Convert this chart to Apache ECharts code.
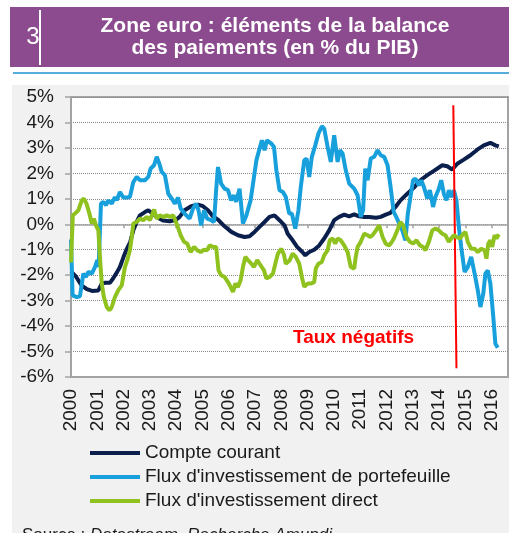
<!DOCTYPE html>
<html>
<head>
<meta charset="utf-8">
<script src="https://cdn.jsdelivr.net/npm/echarts@6/dist/echarts.min.js"></script>
<style>
  html, body { margin: 0; padding: 0; background: #fff; }
  #chart { width: 509px; height: 533px; }
</style>
</head>
<body>
<div id="chart"></div>
<script>
// Zone euro : éléments de la balance des paiements (en % du PIB)

// libellés
const seriesNames = ['Compte courant', "Flux d'investissement de portefeuille", "Flux d'investissement direct"];
const yearTicks = [2000, 2001, 2002, 2003, 2004, 2005, 2006, 2007, 2008, 2009, 2010, 2011, 2012, 2013, 2014, 2015, 2016];

// [année, % du PIB]
const compteCourant = [
    [2000.0, -1.85], [2000.05, -1.9], [2000.2, -2.07], [2000.4, -2.4], [2000.6, -2.55], [2000.8, -2.62],
    [2001.04, -2.6], [2001.17, -2.33], [2001.3, -2.3], [2001.48, -2.3], [2001.6, -2.13], [2001.74, -1.9],
    [2001.86, -1.68], [2002.0, -1.28], [2002.1, -1.02], [2002.25, -0.7], [2002.37, -0.24], [2002.5, 0.1],
    [2002.62, 0.35], [2002.81, 0.48], [2002.94, 0.55], [2003.13, 0.4], [2003.32, 0.25], [2003.5, 0.15],
    [2003.76, 0.12], [2004.0, 0.18], [2004.13, 0.29], [2004.32, 0.55], [2004.57, 0.71], [2004.83, 0.77],
    [2005.02, 0.71], [2005.21, 0.55], [2005.4, 0.31], [2005.59, 0.18], [2005.84, -0.08], [2006.1, -0.3],
    [2006.35, -0.43], [2006.6, -0.5], [2006.79, -0.47], [2006.98, -0.3], [2007.17, -0.1], [2007.36, 0.09],
    [2007.55, 0.29], [2007.74, 0.35], [2007.93, 0.16], [2008.12, -0.04], [2008.24, -0.37], [2008.43, -0.63],
    [2008.6, -0.89], [2008.8, -1.09], [2008.91, -1.22], [2009.06, -1.09], [2009.25, -1.0], [2009.44, -0.83],
    [2009.63, -0.56], [2009.82, -0.24], [2010.01, 0.16], [2010.2, 0.29], [2010.39, 0.38], [2010.58, 0.31],
    [2010.77, 0.39], [2010.96, 0.31], [2011.15, 0.29], [2011.34, 0.29], [2011.6, 0.26], [2011.78, 0.29],
    [2011.97, 0.38], [2012.15, 0.45], [2012.34, 0.68], [2012.53, 0.94], [2012.79, 1.2], [2013.04, 1.44],
    [2013.29, 1.73], [2013.55, 1.93], [2013.8, 2.1], [2014.12, 2.32], [2014.31, 2.28], [2014.5, 2.15],
    [2014.69, 2.38], [2014.94, 2.54], [2015.19, 2.71], [2015.45, 2.93], [2015.7, 3.1], [2015.95, 3.2],
    [2016.14, 3.1], [2016.27, 3.06]
];

const fluxPortefeuille = [
    [2000.0, -0.6], [2000.06, -2.79], [2000.22, -2.86], [2000.34, -2.83], [2000.47, -1.94], [2000.57, -2.07],
    [2000.66, -1.87], [2000.79, -1.94], [2000.91, -1.68], [2001.0, -1.41], [2001.05, -1.68], [2001.14, 0.81],
    [2001.23, 0.88], [2001.33, 0.75], [2001.42, 0.94], [2001.55, 0.81], [2001.67, 1.07], [2001.74, 0.94],
    [2001.86, 1.27], [2001.99, 1.05], [2002.12, 1.05], [2002.24, 1.07], [2002.37, 1.66], [2002.5, 1.86],
    [2002.62, 1.73], [2002.81, 1.73], [2002.94, 1.86], [2003.03, 2.19], [2003.16, 2.32], [2003.26, 2.65],
    [2003.36, 2.38], [2003.45, 2.06], [2003.57, 1.93], [2003.7, 1.2], [2003.83, 1.01], [2003.95, 0.81],
    [2004.07, 1.05], [2004.17, 0.62], [2004.32, 0.42], [2004.51, 0.22], [2004.64, 0.62], [2004.76, 0.81],
    [2004.85, 0.55], [2004.95, -0.04], [2005.06, 0.55], [2005.18, 0.22], [2005.33, 0.16], [2005.44, 0.09],
    [2005.52, 1.34], [2005.59, 2.25], [2005.71, 1.6], [2005.84, 1.4], [2005.97, 1.34], [2006.09, 0.94],
    [2006.2, 1.14], [2006.28, 0.88], [2006.41, 1.4], [2006.54, 0.03], [2006.67, 0.35], [2006.83, 0.94],
    [2006.96, 1.86], [2007.05, 2.51], [2007.17, 2.97], [2007.26, 3.3], [2007.36, 2.91], [2007.45, 3.3],
    [2007.62, 3.17], [2007.72, 3.04], [2007.81, 2.12], [2007.93, 1.34], [2008.06, 1.27], [2008.17, 1.07],
    [2008.3, 0.42], [2008.4, 0.42], [2008.53, -0.17], [2008.65, 0.55], [2008.74, 1.47], [2008.87, 2.51],
    [2008.96, 2.58], [2009.06, 1.86], [2009.16, 2.65], [2009.29, 3.1], [2009.41, 3.56], [2009.54, 3.85],
    [2009.63, 3.76], [2009.76, 3.04], [2009.88, 2.45], [2010.01, 3.5], [2010.14, 2.45], [2010.23, 2.91],
    [2010.33, 2.78], [2010.45, 2.12], [2010.58, 1.6], [2010.77, 1.4], [2010.9, 1.14], [2011.02, 0.29],
    [2011.11, 0.55], [2011.19, 2.19], [2011.28, 1.73], [2011.4, 2.58], [2011.53, 2.65], [2011.66, 2.91],
    [2011.78, 2.71], [2011.91, 2.65], [2012.04, 2.32], [2012.15, 1.5], [2012.27, 0.5], [2012.4, 0.22],
    [2012.6, -0.24], [2012.72, -0.63], [2012.81, 0.42], [2012.91, 1.07], [2013.01, 1.73], [2013.1, 1.79],
    [2013.23, 1.53], [2013.32, 1.73], [2013.42, 1.47], [2013.55, 1.01], [2013.65, 1.34], [2013.77, 0.68],
    [2013.86, 1.07], [2013.99, 1.4], [2014.08, 1.73], [2014.18, 1.2], [2014.28, 0.94], [2014.37, 1.34],
    [2014.46, 1.07], [2014.56, 1.34], [2014.66, 0.94], [2014.75, -0.1], [2014.84, -0.89], [2014.97, -1.87],
    [2015.09, -1.68], [2015.22, -1.28], [2015.35, -1.94], [2015.47, -2.59], [2015.57, -3.25], [2015.68, -2.72],
    [2015.76, -1.94], [2015.85, -1.81], [2015.95, -2.33], [2016.06, -3.64], [2016.14, -4.69], [2016.23, -4.85]
];

const fluxDirect = [
    [2000.0, -1.5], [2000.07, 0.35], [2000.15, 0.42], [2000.28, 0.55], [2000.41, 0.94], [2000.49, 1.01],
    [2000.59, 0.81], [2000.7, 0.42], [2000.79, 0.03], [2000.87, 0.22], [2000.95, -0.04], [2001.04, -0.24],
    [2001.1, -1.28], [2001.17, -2.33], [2001.25, -2.86], [2001.36, -3.25], [2001.46, -3.38], [2001.55, -3.25],
    [2001.67, -2.86], [2001.8, -2.59], [2001.93, -2.4], [2002.05, -1.68], [2002.14, -1.41], [2002.24, -1.02],
    [2002.31, -0.5], [2002.37, 0.03], [2002.5, 0.09], [2002.62, 0.22], [2002.75, 0.16], [2002.88, 0.29],
    [2003.0, 0.16], [2003.16, 0.58], [2003.26, 0.22], [2003.38, 0.35], [2003.51, 0.29], [2003.64, 0.35],
    [2003.76, 0.29], [2003.89, 0.35], [2004.04, -0.04], [2004.17, -0.43], [2004.3, -0.69], [2004.42, -0.76],
    [2004.55, -1.09], [2004.68, -0.89], [2004.8, -1.02], [2004.93, -1.09], [2005.06, -1.0], [2005.18, -1.02],
    [2005.27, -0.83], [2005.4, -0.89], [2005.52, -0.89], [2005.61, -1.81], [2005.71, -2.0], [2005.84, -2.07],
    [2005.97, -2.27], [2006.07, -2.46], [2006.16, -2.66], [2006.25, -2.33], [2006.35, -2.46], [2006.45, -2.2],
    [2006.54, -1.68], [2006.63, -1.28], [2006.73, -1.41], [2006.86, -1.55], [2006.96, -1.68], [2007.08, -1.41],
    [2007.21, -1.61], [2007.34, -1.81], [2007.43, -2.13], [2007.55, -2.07], [2007.68, -1.94], [2007.77, -1.55],
    [2007.87, -1.15], [2008.0, -0.96], [2008.1, -1.2], [2008.17, -1.55], [2008.32, -1.41], [2008.43, -1.15],
    [2008.55, -1.28], [2008.68, -1.55], [2008.78, -2.07], [2008.87, -2.46], [2009.0, -2.33], [2009.12, -2.33],
    [2009.25, -2.27], [2009.31, -1.74], [2009.41, -1.55], [2009.54, -1.48], [2009.63, -1.22], [2009.76, -1.02],
    [2009.84, -0.63], [2009.95, -0.56], [2010.05, -0.76], [2010.14, -0.56], [2010.26, -0.63], [2010.39, -0.83],
    [2010.52, -1.09], [2010.64, -1.68], [2010.77, -1.74], [2010.83, -1.28], [2010.9, -0.89], [2011.02, -0.69],
    [2011.15, -0.37], [2011.28, -0.43], [2011.37, -0.5], [2011.47, -0.43], [2011.6, -0.24], [2011.72, -0.04],
    [2011.85, -0.5], [2011.97, -0.76], [2012.1, -0.83], [2012.2, -0.7], [2012.28, -0.56], [2012.41, -0.24],
    [2012.53, 0.09], [2012.63, -0.04], [2012.76, -0.5], [2012.89, -0.69], [2013.01, -0.76], [2013.14, -0.63],
    [2013.27, -0.83], [2013.39, -0.89], [2013.48, -1.02], [2013.61, -0.69], [2013.74, -0.24], [2013.86, -0.17],
    [2013.99, -0.24], [2014.12, -0.37], [2014.24, -0.43], [2014.37, -0.69], [2014.46, -0.56], [2014.56, -0.43],
    [2014.66, -0.5], [2014.79, -0.56], [2014.92, -0.37], [2015.0, -0.3], [2015.09, -0.69], [2015.22, -0.96],
    [2015.35, -0.96], [2015.47, -1.09], [2015.6, -0.96], [2015.73, -1.02], [2015.8, -1.35], [2015.87, -0.76],
    [2015.95, -0.63], [2016.02, -0.89], [2016.11, -0.43], [2016.18, -0.56], [2016.27, -0.39]
];

// ligne "Taux négatifs" (début et fin)
const negRateLine = [[2014.54, 4.68], [2014.66, -5.66]];

const FONT = '"Liberation Sans", Arial, sans-serif';
const colors = ['#0b1f4d', '#17a0dc', '#8fc21e'];

const chart = echarts.init(document.getElementById('chart'), null, { renderer: 'canvas' });

const axisGray = '#a3a3a3';

const option = {
    backgroundColor: '#ffffff',
    animation: false,
    color: colors,
    textStyle: { fontFamily: FONT },
    grid: {
        left: 71, right: 1, top: 97, bottom: 156,
        show: true,
        backgroundColor: '#ffffff',
        borderColor: axisGray,
        borderWidth: 2
    },
    legend: {
        orient: 'vertical',
        left: 90,
        top: 441,
        padding: 0,
        itemGap: 0,
        itemWidth: 50,
        itemHeight: 4,
        icon: 'rect',
        data: seriesNames,
        textStyle: { fontSize: 19, color: '#1a1a1a', lineHeight: 24, fontFamily: FONT }
    },
    xAxis: [
        {
            type: 'value',
            min: 2000,
            max: 2016.62,
            interval: 1,
            position: 'bottom',
            axisLine: { onZero: false, lineStyle: { color: axisGray, width: 2 } },
            axisTick: { show: false },
            splitLine: { show: false },
            axisLabel: {
                rotate: 90,
                margin: 12,
                fontSize: 19,
                color: '#1a1a1a',
                formatter: function (v) {
                    return yearTicks.indexOf(v) >= 0 ? String(v) : '';
                }
            }
        },
        {
            type: 'value',
            min: 2000,
            max: 2016.62,
            interval: 1,
            position: 'bottom',
            axisLine: { onZero: true, lineStyle: { color: axisGray, width: 1.5 } },
            axisTick: { show: true, length: 4, lineStyle: { color: axisGray, width: 1.5 } },
            axisLabel: { show: false },
            splitLine: { show: false }
        }
    ],
    yAxis: {
        type: 'value',
        min: -6,
        max: 5,
        interval: 1,
        axisLine: { show: true, lineStyle: { color: axisGray, width: 2 } },
        axisTick: { show: true, length: 6, lineStyle: { color: axisGray, width: 1.5 } },
        axisLabel: {
            formatter: '{value}%',
            fontSize: 19,
            color: '#1a1a1a',
            margin: 17
        },
        splitLine: { show: true, lineStyle: { color: '#8a8a8a', type: 'dotted', width: 1 } }
    },
    series: [
        {
            name: seriesNames[0],
            type: 'line',
            data: compteCourant,
            showSymbol: false,
            smooth: false,
            lineStyle: { width: 4, color: colors[0] },
            z: 3
        },
        {
            name: seriesNames[1],
            type: 'line',
            data: fluxPortefeuille,
            showSymbol: false,
            lineStyle: { width: 4, color: colors[1] },
            z: 4
        },
        {
            name: seriesNames[2],
            type: 'line',
            data: fluxDirect,
            showSymbol: false,
            lineStyle: { width: 4, color: colors[2] },
            z: 5,
            markLine: {
                silent: true,
                symbol: 'none',
                label: { show: false },
                lineStyle: { color: '#ff0000', width: 2, type: 'solid' },
                data: [[{ coord: negRateLine[0] }, { coord: negRateLine[1] }]]
            }
        }
    ],
    graphic: [
        {
            type: 'rect', z: -10, silent: true,
            shape: { x: 12, y: 85, width: 497, height: 448 },
            style: { fill: '#f2f1f1' }
        },
        {
            type: 'rect', silent: true,
            shape: { x: 10, y: 7, width: 499, height: 60 },
            style: { fill: '#8c4a8f' }
        },
        {
            type: 'rect', silent: true,
            shape: { x: 39, y: 10, width: 2, height: 55 },
            style: { fill: '#ffffff' }
        },
        {
            type: 'text', silent: true, x: 33, y: 37,
            style: { text: '3', fill: '#ffffff', font: '24px ' + FONT, align: 'center', verticalAlign: 'middle' }
        },
        {
            type: 'text', silent: true, x: 275, y: 37,
            style: {
                text: 'Zone euro : éléments de la balance\ndes paiements (en % du PIB)',
                fill: '#ffffff', font: 'bold 21px ' + FONT, align: 'center', verticalAlign: 'middle', lineHeight: 22
            }
        },
        {
            type: 'line', silent: true,
            shape: { x1: 13, y1: 73, x2: 509, y2: 73 },
            style: { stroke: '#2090d0', lineWidth: 1.5 }
        },
        {
            type: 'text', silent: true, x: 293, y: 338, z: 10,
            style: { text: 'Taux négatifs', fill: '#ff0000', font: 'bold 19px ' + FONT, align: 'left', verticalAlign: 'middle' }
        },
        {
            type: 'text', silent: true, x: 22, y: 527,
            style: {
                text: '{a|Source : }{b|Datastream, Recherche Amundi}',
                verticalAlign: 'top',
                rich: {
                    a: { font: '17px ' + FONT, fill: '#1a1a1a' },
                    b: { font: 'italic 17px ' + FONT, fill: '#1a1a1a' }
                }
            }
        }
    ]
};

chart.setOption(option);
window.addEventListener('resize', function () { chart.resize(); });
</script>
</body>
</html>
